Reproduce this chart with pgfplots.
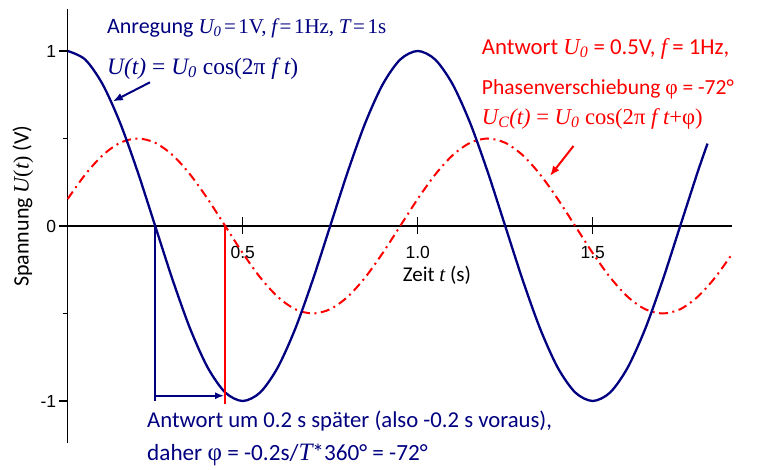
\documentclass[border=0pt]{standalone}
\usepackage{fontspec}
\setmainfont{Carlito}
\newfontfamily\tnr{Liberation Serif}
\newfontfamily\arial{Liberation Sans}
\usepackage{pgfplots}
\usepackage{pgfplotstable}
\pgfplotsset{compat=1.18}
\usetikzlibrary{arrows.meta}
\definecolor{navyc}{RGB}{0,0,128}
\definecolor{redc}{RGB}{255,0,0}
\newcommand{\mi}[1]{{\tnr\itshape #1}}
\newcommand{\sr}[1]{{\tnr #1}}
\newcommand{\fs}[1]{\fontsize{#1}{#1}\selectfont}
\newcommand{\ts}{\hspace{2.5pt}}

\pgfplotstableread{
t u
0.00 1
0.05 0.9511
0.10 0.8090
0.15 0.5878
0.20 0.3090
0.25 0
0.30 -0.3090
0.35 -0.5878
0.40 -0.8090
0.45 -0.9511
0.50 -1
0.55 -0.9511
0.60 -0.8090
0.65 -0.5878
0.70 -0.3090
0.75 0
0.80 0.3090
0.85 0.5878
0.90 0.8090
0.95 0.9511
1.00 1
1.05 0.9511
1.10 0.8090
1.15 0.5878
1.20 0.3090
1.25 0
1.30 -0.3090
1.35 -0.5878
1.40 -0.8090
1.45 -0.9511
1.50 -1
1.55 -0.9511
1.60 -0.8090
1.65 -0.5878
1.70 -0.3090
1.75 0
1.80 0.3090
1.828 0.4707
}\bluedata

\pgfplotstableread{
t u
0.00 0.1545
0.05 0.2939
0.10 0.4045
0.15 0.4755
0.20 0.5
0.25 0.4755
0.30 0.4045
0.35 0.2939
0.40 0.1545
0.45 0
0.50 -0.1545
0.55 -0.2939
0.60 -0.4045
0.65 -0.4755
0.70 -0.5
0.75 -0.4755
0.80 -0.4045
0.85 -0.2939
0.90 -0.1545
0.95 0
1.00 0.1545
1.05 0.2939
1.10 0.4045
1.15 0.4755
1.20 0.5
1.25 0.4755
1.30 0.4045
1.35 0.2939
1.40 0.1545
1.45 0
1.50 -0.1545
1.55 -0.2939
1.60 -0.4045
1.65 -0.4755
1.70 -0.5
1.75 -0.4755
1.80 -0.4045
1.85 -0.2939
1.90 -0.1545
}\reddata

\begin{document}
\begin{tikzpicture}[x=1pt,y=1pt]
\path[use as bounding box] (0,0) rectangle (761,470);
\begin{axis}[
 at={(67.7pt,27pt)}, anchor=south west,
 scale only axis, width=664.3pt, height=434pt,
 xmin=0, xmax=1.898, ymin=-1.24, ymax=1.24,
 axis lines=middle,
 axis line style={line width=1.5pt,-},
 clip=false,
 xtick={0.5,1,1.5}, xticklabels={0.5,1.0,1.5},
 ytick={-1,0,1}, yticklabels={-1,0,1},
 minor ytick={-0.5,0.5},
 tick align=outside,
 major tick length=9pt, minor tick length=5pt,
 x tick style={draw=none},
 y tick style={line width=1.2pt, black},
 hide obscured x ticks=false, hide obscured y ticks=false,
 ticklabel style={font=\arial\fontsize{17.5}{20}\selectfont},
 xticklabel style={anchor=north, yshift=-8pt},
 yticklabel style={anchor=east, xshift=1pt},
]
% x ticks (crossing the axis)
\draw[line width=1.2pt] ([yshift=-8.5pt]axis cs:0.5,0) -- ([yshift=8.5pt]axis cs:0.5,0);
\draw[line width=1.2pt] ([yshift=-8.5pt]axis cs:1,0) -- ([yshift=8.5pt]axis cs:1,0);
\draw[line width=1.2pt] ([yshift=-8.5pt]axis cs:1.5,0) -- ([yshift=8.5pt]axis cs:1.5,0);

\addplot[redc, line width=2pt, smooth, dash pattern=on 9pt off 4.5pt on 2pt off 4.5pt] table[x=t,y=u] {\reddata};
\addplot[navyc, line width=2.3pt, smooth] table[x=t,y=u] {\bluedata};
\addplot[navyc, line width=2pt] coordinates {(0.25,0) (0.25,-1.0)};
\addplot[redc, line width=2pt] coordinates {(0.45,0) (0.45,-1.015)};
\addplot[navyc, line width=2pt, -{Latex[length=9pt,width=7pt]}] coordinates {(0.25,-0.97) (0.447,-0.97)};

% annotation arrows
\draw[navyc, line width=2pt, -{Latex[length=10pt,width=8pt]}] (axis cs:0.235,0.821) -- (axis cs:0.129,0.712);
\draw[redc, line width=2pt, -{Latex[length=10pt,width=8pt]}] (axis cs:1.445,0.457) -- (axis cs:1.378,0.286);

% axis labels
\node[rotate=90, font=\fs{22}] at (axis cs:-0.128,0.113) {Spannung \mi{U}\sr{(}\mi{t}\sr{)} (V)};
\node[font=\fs{21}] at (axis cs:1.055,-0.28) {Zeit \mi{t} (s)};

% blue texts
\node[navyc, anchor=base west, inner sep=0pt, font=\fs{22}] at (axis cs:0.112,1.101) {Anregung {\fs{21}\mi{U}\textsubscript{\mi{0}}\ts\sr{=}\ts\sr{1V,} \mi{f}\ts\sr{=}\ts\sr{1Hz,} \mi{T}\ts\sr{=}\ts\sr{1s}}};
\node[navyc, anchor=base west, inner sep=0pt, font=\fs{23.5}] at (axis cs:0.112,0.867) {\mi{U(t)}\sr{ = }\mi{U}\textsubscript{\mi{0}}\sr{ cos(2π }\mi{f}\sr{ }\mi{t}\sr{)}};

% red texts
\node[redc, anchor=base west, inner sep=0pt, font=\fs{22.8}] at (axis cs:1.183,0.981) {Antwort \mi{U}\textsubscript{\mi{0}} = 0.5V, \mi{f} = 1Hz,};
\node[redc, anchor=base west, inner sep=0pt, font=\fs{21.5}] at (axis cs:1.183,0.753) {Phasenverschiebung \sr{φ} = -72°};
\node[redc, anchor=base west, inner sep=0pt, font=\fs{22.6}] at (axis cs:1.183,0.581) {\mi{U}\textsubscript{\mi{C}}\mi{(t)}\sr{ = }\mi{U}\textsubscript{\mi{0}}\sr{ cos(2π }\mi{f}\sr{ }\mi{t}\sr{+φ)}};

% bottom texts
\node[navyc, anchor=base west, inner sep=0pt, font=\fs{22.7}] at (axis cs:0.2266,-1.15) {Antwort um 0.2 s später (also -0.2 s voraus),};
\node[navyc, anchor=base west, inner sep=0pt, font=\fs{23.2}] at (axis cs:0.2266,-1.339) {daher {\fs{25}\sr{φ}} = -0.2s/{\fs{25}\mi{T}}*360° = -72°};
\end{axis}
\end{tikzpicture}
\end{document}
